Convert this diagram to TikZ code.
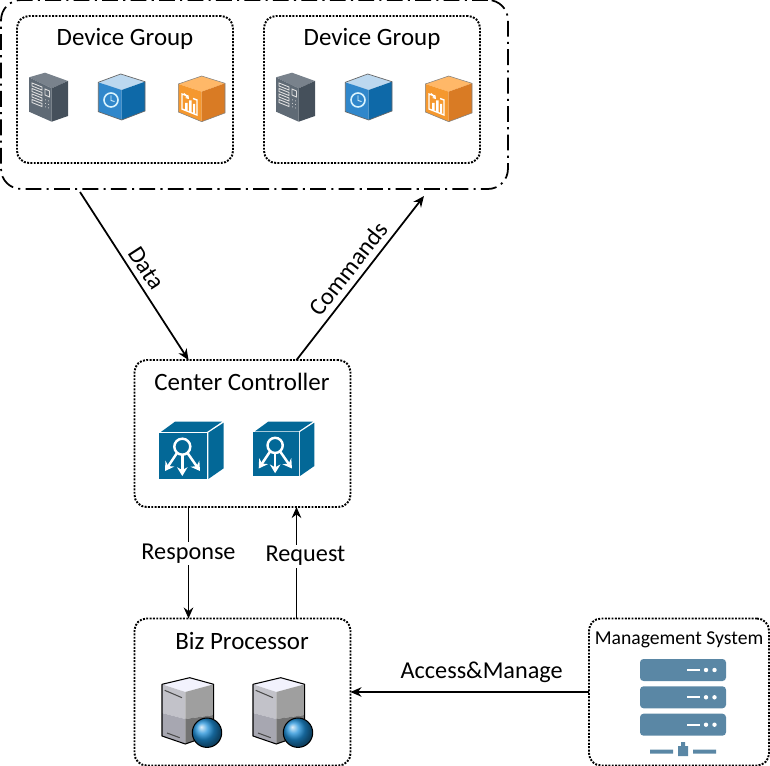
\documentclass[tikz,border=0pt]{standalone}
\usepackage{fontspec}
\setmainfont{Carlito}
\usetikzlibrary{arrows.meta,calc}
\definecolor{hubblue}{HTML}{036897}
\definecolor{rackblue}{HTML}{5A87A5}
\definecolor{slatetop}{HTML}{79828C}
\definecolor{slateleft}{HTML}{5F6A75}
\definecolor{slateright}{HTML}{45505B}
\definecolor{clocktop}{HTML}{BCD8EF}
\definecolor{clockleft}{HTML}{3087CB}
\definecolor{clockright}{HTML}{0E69A8}
\definecolor{chartop}{HTML}{FFB868}
\definecolor{charleft}{HTML}{F5982E}
\definecolor{charright}{HTML}{D97B24}
\definecolor{balltone}{HTML}{1E8FD8}
\tikzset{
  groupbox/.style={draw,rounded corners=.24cm,line width=1.1pt,dash pattern=on 1.1pt off .8pt,
    minimum width=4.32cm,minimum height=2.94cm,inner sep=0pt,outer sep=0pt},
  smallbox/.style={groupbox,minimum width=3.6cm},
  outerbox/.style={draw,rounded corners=.4cm,line width=1pt,dash pattern=on 9pt off 3pt on 1.2pt off 3pt,
    minimum width=10.14cm,minimum height=3.78cm,inner sep=0pt,outer sep=0pt},
  title/.style={font=\fontsize{14.2}{14}\selectfont},
  edgelabel/.style={font=\fontsize{13.8}{14}\selectfont},
  link/.style={line width=1pt,-{Stealth[length=.22cm,width=.19cm]}},
  panelcube/.pic={
    \fill[slatetop] (1,5.3)--(17,.7)--(40,9)--(23.7,16.3)--cycle;
    \fill[slateleft] (1,5.3)--(23.7,16.3)--(23.7,49.7)--(1,39.7)--cycle;
    \fill[slateright] (23.7,16.3)--(40,9)--(40,44)--(23.7,49.7)--cycle;
    \foreach \s in {0,1,2,3}
      \draw[white!75!gray,line width=.5pt] (4,{11+5.5*\s})--(14,{15+5.5*\s})--(14,{18+5.5*\s})--(4,{14+5.5*\s})--cycle;
    \draw[white!75!gray,line width=.5pt] (17,17)--(21.5,19)--(21.5,25)--(17,23)--cycle;
    \foreach \s in {0,1,2}
      \fill[white!75!gray] (17.5,{28+3.5*\s}) circle (.5) (20.5,{29+3.5*\s}) circle (.5);
  },
  clockcube/.pic={
    \fill[clocktop] (.3,8.3)--(22.7,0)--(47,7.7)--(23.7,16)--cycle;
    \fill[clockleft] (.3,8.3)--(23.7,16)--(23.7,46)--(.3,37.7)--cycle;
    \fill[clockright] (23.7,16)--(47,7.7)--(47,37)--(23.7,46)--cycle;
    \draw[black!60,line width=.4pt] (.3,8.3)--(22.7,0)--(47,7.7)--(47,37)--(23.7,46)--(.3,37.7)--cycle;
    \draw[white!85!cyan,line width=.9pt] (13,26) circle (7);
    \draw[white!85!cyan,line width=.5pt] (13,21.5)--(13,26.5)--(16.5,27.5);
  },
  chartcube/.pic={
    \fill[chartop] (.3,8)--(23.7,0)--(47,7.3)--(23.7,15.7)--cycle;
    \fill[charleft] (.3,8)--(23.7,15.7)--(23.7,45.7)--(.3,36)--cycle;
    \fill[charright] (23.7,15.7)--(47,7.3)--(47,37)--(23.7,45.7)--cycle;
    \draw[black!50,line width=.3pt] (.3,8)--(23.7,0)--(47,7.3)--(47,37)--(23.7,45.7)--(.3,36)--cycle;
    \draw[white,line width=.8pt] (10,20)--(4,18)--(4,33)--(19,39)--(19,24)--(15,22.5);
    \draw[white,line width=.8pt,-{Stealth[length=2pt,width=2.5pt]}] (6,17.5)--(11,23);
    \fill[white] (7,27)rectangle(9.5,34.5) (11,24.5)rectangle(13.5,36) (15,28)rectangle(17,37);
  },
  hubcube/.pic={
    \fill[hubblue] (0,11.7)rectangle(48,58.3);
    \fill[hubblue] (2,10.9)--(16,.7)--(63,.7)--(48,10.9)--cycle;
    \fill[hubblue] (49.3,11.7)--(64.7,1.7)--(64.7,47.3)--(49.3,58)--cycle;
    \draw[white,line width=1.4pt] (23.3,25.7) circle (8);
    \draw[white,line width=1.4pt,-{Stealth[length=5pt,width=6pt]}] (18,32)--(6,50);
    \draw[white,line width=1.4pt,-{Stealth[length=5pt,width=6pt]}] (23.3,34)--(23.3,55);
    \draw[white,line width=1.4pt,-{Stealth[length=5pt,width=6pt]}] (28.5,32)--(41,50);
  },
  serverbox/.pic={
    \fill[black!15!blue!5!white] (0,7.3)--(27.7,.7)--(51.7,7.3)--(23.3,15)--cycle;
    \fill[blue!6!gray!45] (0,7.3)--(23.3,15)--(23.3,42)--(0,36)--cycle;
    \fill[blue!6!gray!65] (0,36)--(23.3,42)--(23.3,67)--(0,59)--cycle;
    \fill[gray!75] (23.3,15)--(51.7,7.3)--(51.7,38)--(23.3,42)--cycle;
    \fill[black!55] (23.3,42)--(51.7,38)--(51.7,57)--(23.3,67)--cycle;
    \draw[line width=.6pt,line join=round] (0,7.3)--(27.7,.7)--(51.7,7.3)--(51.7,57)--(23.3,67)--(0,59)--cycle;
    \draw[black!70,line width=.6pt] (2.7,13.3)--(20,20.7) (5,56)--(17.7,60.7);
    \shade[ball color=balltone] (45,55.7) circle (14.7);
    \draw[line width=.6pt] (45,55.7) circle (14.7);
  },
  rackicon/.pic={
    \foreach \s in {0,27.3,54.7}{
      \fill[rackblue,rounded corners=2pt] (0,\s)rectangle(86,{\s+22});
      \draw[white,line width=1.2pt] (47,{\s+11})--(60,{\s+11});
      \fill[white] (66,{\s+11}) circle (2.2) (74.5,{\s+11}) circle (2.2);
    }
    \fill[rackblue] (10,90.5)rectangle(33,94.5) (53,90.5)rectangle(76,94.5)
      (38,87)rectangle(48,97) (41,83)rectangle(45,87);
  }
}
\begin{document}
\begin{tikzpicture}[x=.02cm,y=-.02cm]
  \useasboundingbox (0,0) rectangle (770,766);
  % boxes
  \node[outerbox] (devices) at (254.5,94.5) {};
  \node[groupbox] (groupa) at (125,89.5) {};
  \node[groupbox] (groupb) at (372,89.5) {};
  \node[groupbox] (ctrl) at (242.5,433.5) {};
  \node[groupbox] (biz) at (242.5,692) {};
  \node[smallbox] (mgmt) at (679,692) {};
  % titles
  \node[title] (groupalabel) at (125,39) {Device Group};
  \node[title] (groupblabel) at (372,39) {Device Group};
  \node[title] (ctrllabel) at (242,382) {Center Controller};
  \node[title] (bizlabel) at (242,641) {Biz Processor};
  \node[font=\fontsize{11.2}{12}\selectfont] (mgmtlabel) at (679,640) {Management System};
  % icons
  \pic at (28,72) {panelcube};
  \pic at (98,74) {clockcube};
  \pic at (178,76) {chartcube};
  \pic at (275,72) {panelcube};
  \pic at (345,74) {clockcube};
  \pic at (425,76) {chartcube};
  \pic at (159,421) {hubcube};
  \pic[scale=.95] at (253,421) {hubcube};
  \pic at (162,677) {serverbox};
  \pic at (253,677) {serverbox};
  \pic at (640,659) {rackicon};
  % connectors
  \coordinate (datastart) at (80,192);
  \coordinate (cmdend) at (424,196);
  \draw[link] (datastart) -- ($(ctrl.north west)!.25!(ctrl.north east)$)
    node[edgelabel,pos=.5,sloped,above] (datalabel) {Data};
  \draw[link] ($(ctrl.north west)!.75!(ctrl.north east)$) -- (cmdend)
    node[edgelabel,pos=.5,sloped,above] (cmdlabel) {Commands};
  \draw[link] ($(ctrl.south west)!.25!(ctrl.south east)$) -- ($(biz.north west)!.25!(biz.north east)$)
    node[edgelabel,pos=.42,fill=white,inner sep=1pt] (resplabel) {Response};
  \draw[link] ($(biz.north west)!.75!(biz.north east)$) -- ($(ctrl.south west)!.75!(ctrl.south east)$)
    node[edgelabel,pos=.56,fill=white,inner sep=1pt,xshift=.18cm] (reqlabel) {Request};
  \draw[link] (mgmt.west) -- (biz.east)
    node[edgelabel,pos=.45,above=1.5pt] (accesslabel) {Access\&Manage};
\end{tikzpicture}
\end{document}
